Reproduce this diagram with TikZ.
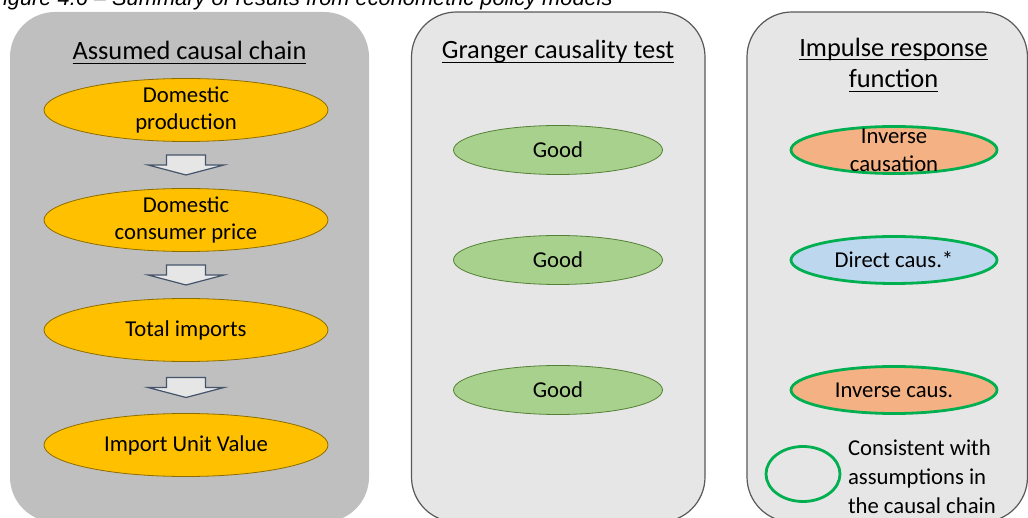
\documentclass[tikz,border=0pt]{standalone}
\usepackage{fontspec}
\setmainfont{Carlito}
\newfontfamily\capfont{Liberation Sans}
\usetikzlibrary{positioning, shapes.geometric, calc}
\definecolor{chaingray}{HTML}{BFBFBF}
\definecolor{boxgray}{HTML}{E7E6E6}
\definecolor{rimgray}{HTML}{595959}
\definecolor{chaingold}{HTML}{FFC000}
\definecolor{golddark}{HTML}{8C6D00}
\definecolor{leaf}{HTML}{A9D18E}
\definecolor{leafdark}{HTML}{538135}
\definecolor{peach}{HTML}{F4B183}
\definecolor{sky}{HTML}{BDD7EE}
\definecolor{okgreen}{HTML}{00B050}
\definecolor{slate}{HTML}{44546A}
\newsavebox\undrbox
\newcommand{\undr}[1]{\sbox\undrbox{#1}\rlap{\vrule width\wd\undrbox height -2.7pt depth 4pt}\usebox\undrbox}

\begin{document}
\begin{tikzpicture}[
x=1pt, y=-1pt,
every node/.style={
    align=center,
    outer sep=0pt,
    font=\fontsize{22.7}{27.7}\selectfont,
    },
panel/.style={
    rectangle,
    rounded corners=45pt,
    fill=boxgray,
    draw=rimgray,
    line width=1.2pt,
    inner sep=0pt,
    minimum height=510pt,
    },
heading/.style={
    anchor=base,
    font=\fontsize{26.4}{31.5}\selectfont,
    },
chainnode/.style={
    ellipse, fill=chaingold, draw=golddark, line width=0.8pt,
    minimum width=284pt, minimum height=63pt, inner sep=0pt,
    },
testnode/.style={
    ellipse, fill=leaf, draw=leafdark, line width=0.8pt,
    minimum width=209pt, minimum height=49pt, inner sep=0pt,
    },
irfnode/.style={
    ellipse, draw=okgreen, line width=2.8pt,
    minimum width=206pt, minimum height=47pt, inner sep=0pt,
    },
downarrow/.pic={
    \draw[fill=boxgray, draw=slate, line width=1.2pt, line join=miter]
      (-19.5,-10) -- (19.5,-10) -- (19.5,0) -- (38,0)
      -- (0,10) -- (-38,0) -- (-19.5,0) -- cycle;
    },
]
\useasboundingbox (0,0) rectangle (1028,518);
\node[panel, fill=chaingray, draw=none, minimum width=359pt]
     (chainpanel) at (189.5,267) {};
\node[panel, minimum width=293.5pt] (testpanel) at (558.25,267) {};
\node[panel, minimum width=280.5pt] (irfpanel) at (887.25,267) {};

\node[anchor=base west, font=\capfont\itshape\fontsize{21.8}{26}\selectfont]
     (caption) at (-13.5,6) {Figure 4.6 – Summary of results from econometric policy models};

\node[heading] (chaintitle) at (189.5,60) {\undr{Assumed causal chain}};
\node[heading] (testtitle) at (558,59) {\undr{Granger causality test}};
\node[heading] (irftitle) at (893.5,88) {\undr{Impulse response}\\\undr{function}};

\node[chainnode, label={center:Domestic\\production}] (prod) at (186,110) {};
\node[chainnode, label={center:Domestic\\consumer price}, below=47pt of prod] (price) {};
\node[chainnode, label={center:Total imports}, below=47pt of price] (imports) {};
\node[chainnode, label={center:Import Unit Value}, below=52pt of imports] (unitvalue) {};
\pic at ($(prod.south)!0.5!(price.north)$) {downarrow};
\pic at ($(price.south)!0.5!(imports.north)$) {downarrow};
\pic at ($(imports.south)!0.5!(unitvalue.north)$) {downarrow};

\node[testnode] (good1) at (558,150) {Good};
\node[testnode, below=61pt of good1] (good2) {Good};
\node[testnode, below=81pt of good2] (good3) {Good};

\node[irfnode, fill=peach, label={center:Inverse\\causation}] (irf1) at (894,150) {};
\node[irfnode, fill=sky, below=63pt of irf1] (irf2) {Direct caus.*};
\node[irfnode, fill=peach, below=83pt of irf2] (irf3) {Inverse caus.};
\node[irfnode, minimum width=74pt, minimum height=55pt] (legend) at (803,474) {};
\node[right=8pt of legend, yshift=-3pt, align=left, inner sep=0pt,
      font=\fontsize{22.7}{29}\selectfont] (legendtext)
     {Consistent with\\assumptions in\\the causal chain};
\end{tikzpicture}
\end{document}
